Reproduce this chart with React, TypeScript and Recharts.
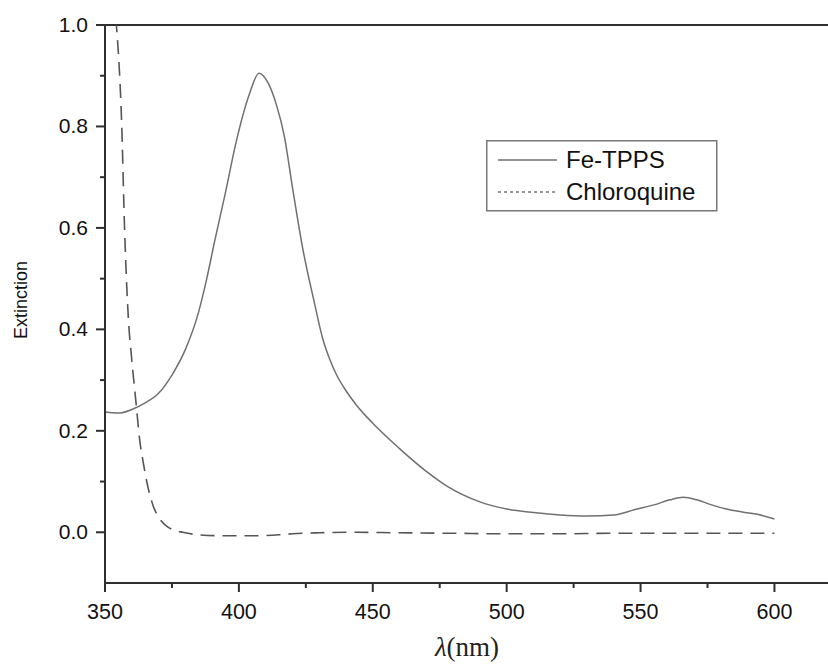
import React from 'react';
import { LineChart, Line, XAxis, YAxis, ReferenceLine } from 'recharts';

// wavelength (nm) / extinction
const feWavelength = [350, 355, 360, 365, 370, 375, 380, 385, 388, 391, 395, 399, 404, 407.5, 411, 414, 417, 420, 424, 428, 431.5, 434, 436.5, 440, 444, 450, 460, 470, 478, 490, 500, 510, 520, 530, 540, 548, 555, 561, 566, 571, 576, 582, 588, 594, 600];
const feExtinction = [0.237, 0.235, 0.242, 0.255, 0.274, 0.31, 0.36, 0.435, 0.5, 0.575, 0.67, 0.77, 0.865, 0.905, 0.885, 0.843, 0.78, 0.68, 0.555, 0.457, 0.378, 0.34, 0.31, 0.279, 0.25, 0.215, 0.165, 0.12, 0.09, 0.06, 0.046, 0.039, 0.034, 0.032, 0.034, 0.045, 0.054, 0.064, 0.069, 0.064, 0.055, 0.046, 0.04, 0.035, 0.026];

const cqWavelength = [353, 354.4, 355, 356.2, 357.3, 358.7, 360, 361.5, 363, 364.3, 366, 368, 370, 373, 376, 379, 385, 395, 405, 415, 420, 430, 440, 460, 480, 500, 520, 540, 560, 580, 600];
const cqExtinction = [1.1, 0.99, 0.945, 0.81, 0.6, 0.424, 0.34, 0.26, 0.18, 0.137, 0.09, 0.052, 0.03, 0.012, 0.004, 0, -0.005, -0.007, -0.007, -0.005, -0.003, -0.001, 0, -0.001, -0.002, -0.003, -0.003, -0.002, -0.002, -0.002, -0.002];

const xTicks = [350, 375, 400, 425, 450, 475, 500, 525, 550, 575, 600];
const yTicks = [0, 0.1, 0.2, 0.3, 0.4, 0.5, 0.6, 0.7, 0.8, 0.9, 1.0];

const feData = feWavelength.map((x, i) => ({ x, v: feExtinction[i] }));
const cqData = cqWavelength.map((x, i) => ({ x, v: cqExtinction[i] }));

const AXIS = '#2f2f2f';
const SANS = '"Liberation Sans", Arial, sans-serif';

const XTick = (props: any) => {
  const { x, y, payload } = props;
  const major = payload.value % 50 === 0;
  return (
    <g>
      <line x1={x} x2={x} y1={y} y2={y + (major ? 9 : 5)} stroke={AXIS} strokeWidth={2} />
      {major && (
        <text x={x} y={y + 36} textAnchor="middle" fontSize={21.5} fill="#111" fontFamily={SANS}>
          {payload.value}
        </text>
      )}
    </g>
  );
};

const YTick = (props: any) => {
  const { x, y, payload } = props;
  const tenths = Math.round(payload.value * 10);
  const major = tenths % 2 === 0;
  return (
    <g>
      <line x1={x} x2={x - (major ? 9 : 5)} y1={y} y2={y} stroke={AXIS} strokeWidth={2} />
      {major && (
        <text x={x - 17} y={y + 7} textAnchor="end" fontSize={21} fill="#111" fontFamily={SANS}>
          {(tenths / 10).toFixed(1)}
        </text>
      )}
    </g>
  );
};

export default function App() {
  return (
    <div style={{ position: 'absolute', left: 0, top: 0, width: 828, height: 665, background: '#fff' }}>
      <LineChart width={828} height={665} margin={{ top: 25, right: 0, bottom: 42, left: 40 }}>
        <XAxis
          type="number"
          dataKey="x"
          domain={[350, 620]}
          ticks={xTicks}
          allowDataOverflow
          height={40}
          tickSize={0}
          tickMargin={0}
          tickLine={false}
          axisLine={{ stroke: AXIS, strokeWidth: 2 }}
          tick={<XTick />}
        />
        <YAxis
          type="number"
          dataKey="v"
          domain={[-0.1, 1]}
          ticks={yTicks}
          allowDataOverflow
          width={65}
          tickSize={0}
          tickMargin={0}
          tickLine={false}
          axisLine={{ stroke: AXIS, strokeWidth: 2 }}
          tick={<YTick />}
          interval={0}
        />
        <ReferenceLine y={1} stroke={AXIS} strokeWidth={2} />
        <Line
          data={feData}
          dataKey="v"
          type="monotone"
          stroke="#707070"
          strokeWidth={1.5}
          dot={false}
          isAnimationActive={false}
        />
        <Line
          data={cqData}
          dataKey="v"
          type="monotone"
          stroke="#555"
          strokeWidth={1.6}
          strokeDasharray="14 8"
          dot={false}
          isAnimationActive={false}
        />
      </LineChart>

      <div
        style={{
          position: 'absolute',
          left: 21,
          top: 300,
          transform: 'translate(-50%, -50%) rotate(-90deg)',
          fontFamily: SANS,
          fontSize: 18,
          color: '#111',
          whiteSpace: 'nowrap',
        }}
      >
        Extinction
      </div>

      <div
        style={{
          position: 'absolute',
          left: 467,
          top: 632,
          transform: 'translateX(-50%)',
          fontFamily: '"Liberation Serif", "Times New Roman", serif',
          fontSize: 27,
          color: '#222',
          whiteSpace: 'nowrap',
        }}
      >
        <i>λ</i>(nm)
      </div>

      <svg style={{ position: 'absolute', left: 486, top: 140 }} width={232} height={72}>
        <rect x={0.75} y={0.75} width={230} height={70} fill="#fff" stroke="#777" strokeWidth={1.5} />
        <line x1={12} x2={71} y1={20} y2={20} stroke="#707070" strokeWidth={1.6} />
        <text x={80} y={28} fontSize={24} fill="#111" fontFamily={SANS}>Fe-TPPS</text>
        <line x1={12} x2={71} y1={52} y2={52} stroke="#777" strokeWidth={1.4} strokeDasharray="3 3" />
        <text x={80} y={60} fontSize={24} fill="#111" fontFamily={SANS}>Chloroquine</text>
      </svg>
    </div>
  );
}
